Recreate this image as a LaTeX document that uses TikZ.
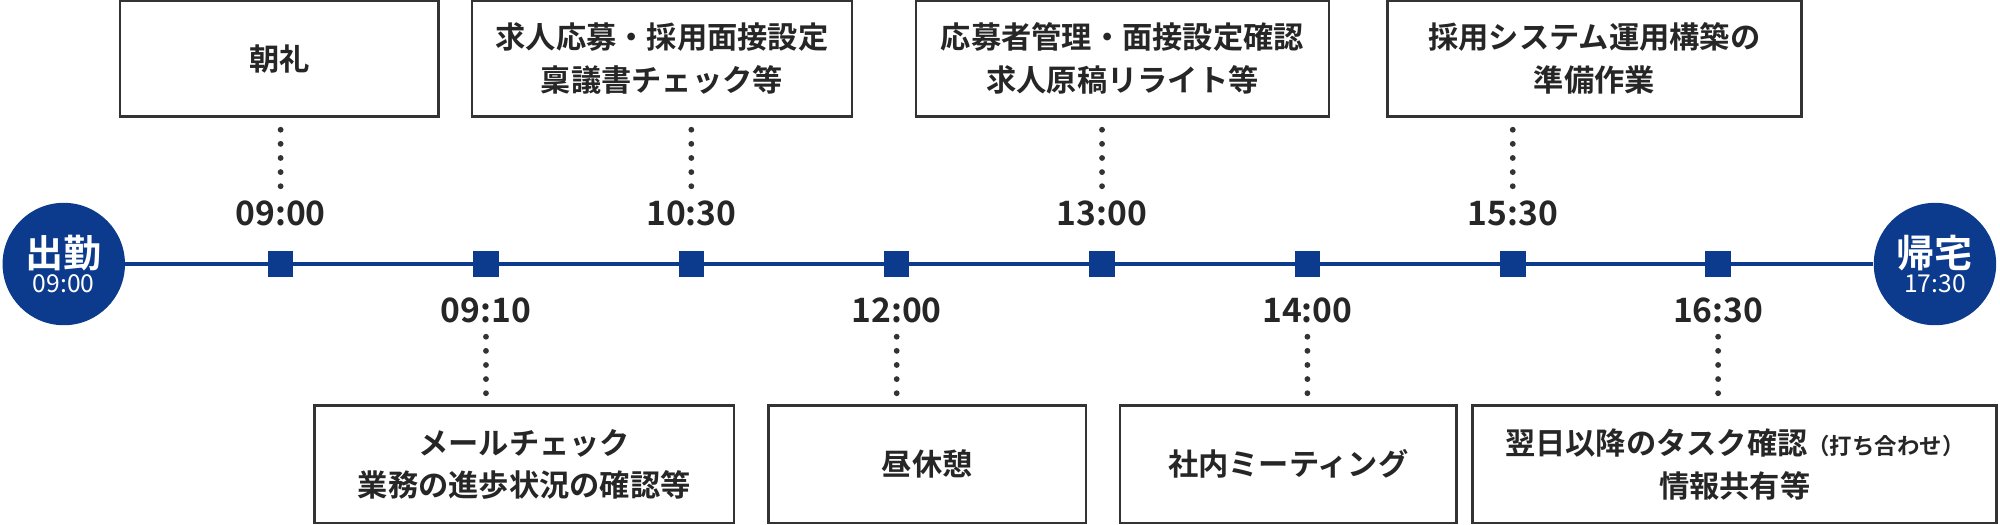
\documentclass[tikz,border=0pt]{standalone}
\usepackage{fontspec}
\setmainfont{Noto Sans CJK JP}
\newfontfamily\jpbold{Noto Sans CJK JP Bold}
\usetikzlibrary{positioning}
\definecolor{navy}{RGB}{12,58,140}
\tikzset{
  taskbox/.style={draw=black!80, line width=1.2pt, fill=white, align=center,
    font=\jpbold\fontsize{13.5}{19}\selectfont, text=black!85, inner sep=0pt},
  tick/.style={fill=navy, inner sep=0pt, minimum size=0.4cm},
  timelabel/.style={font=\jpbold\fontsize{15}{18}\selectfont, text=black!85},
  endpoint/.style={circle, fill=navy, text=white, minimum size=1.92cm, align=center, inner sep=0pt},
  dots/.style={line width=2.6pt, dash pattern=on 0pt off 6.3pt, line cap=round, black!80}
}
\begin{document}
\begin{tikzpicture}[x=0.02cm, y=-0.02cm]
    \useasboundingbox (0,0) rectangle (1568,411);
    % timeline
    \node[endpoint] (start) at (50,207) {{\jpbold\fontsize{17}{20}\selectfont 出勤}\\[-1pt]{\fontsize{11}{13}\selectfont 09:00}};
    \node[endpoint] (finish) at (1517,207) {{\jpbold\fontsize{17}{20}\selectfont 帰宅}\\[-1pt]{\fontsize{11}{13}\selectfont 17:30}};
    \draw[navy, line width=1.6pt] (start) -- (finish);
    \foreach \n/\x in {1/220,2/381,3/542,4/703,5/864,6/1025,7/1186,8/1347}
        \node[tick] (s\n) at (\x,207) {};
    % times
    \node[timelabel] (t1) at (220,167) {09:00};
    \node[timelabel] (t2) at (381,243) {09:10};
    \node[timelabel] (t3) at (542,167) {10:30};
    \node[timelabel] (t4) at (703,243) {12:00};
    \node[timelabel] (t5) at (864,167) {13:00};
    \node[timelabel] (t6) at (1025,243) {14:00};
    \node[timelabel] (t7) at (1186,167) {15:30};
    \node[timelabel] (t8) at (1347,243) {16:30};
    % tasks above
    \node[taskbox, minimum width=5cm, minimum height=1.82cm] (b1) at (219,46) {朝礼};
    \node[taskbox, minimum width=5.96cm, minimum height=1.82cm] (b3) at (519,46) {求人応募・採用面接設定\\稟議書チェック等};
    \node[taskbox, minimum width=6.48cm, minimum height=1.82cm] (b5) at (880,46) {応募者管理・面接設定確認\\求人原稿リライト等};
    \node[taskbox, minimum width=6.5cm, minimum height=1.82cm] (b7) at (1250,46) {採用システム運用構築の\\準備作業};
    % tasks below
    \node[taskbox, minimum width=6.58cm, minimum height=1.84cm] (b2) at (411,364) {メールチェック\\業務の進歩状況の確認等};
    \node[taskbox, minimum width=4.98cm, minimum height=1.84cm] (b4) at (727,364) {昼休憩};
    \node[taskbox, minimum width=5.28cm, minimum height=1.84cm] (b6) at (1010,364) {社内ミーティング};
    \node[taskbox, minimum width=8.22cm, minimum height=1.84cm] (b8) at (1360,364) {翌日以降のタスク確認{\fontsize{10}{12}\selectfont（打ち合わせ）}\\情報共有等};
    % dotted links
    \foreach \n in {1,3,5,7}
        \draw[dots] (s\n |- 0,146) -- ++(0,-46);
    \foreach \n in {2,4,6,8}
        \draw[dots] (s\n |- 0,264) -- ++(0,46);
\end{tikzpicture}
\end{document}
